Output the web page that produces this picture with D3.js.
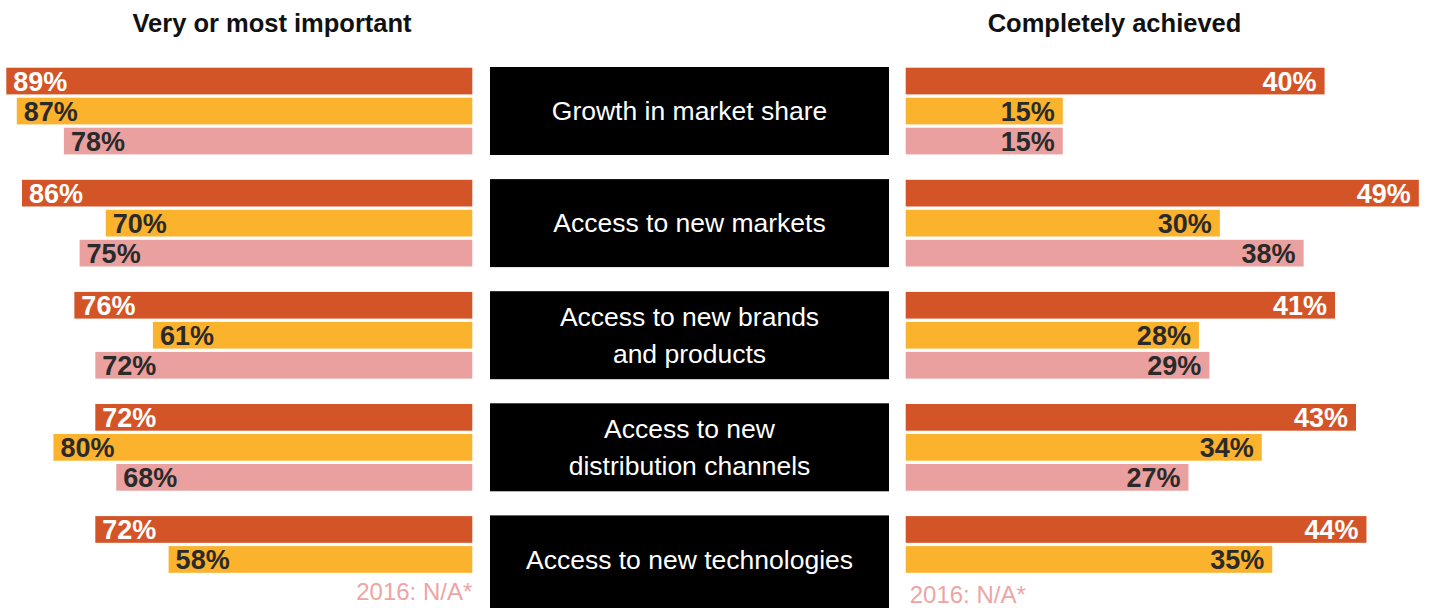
<!DOCTYPE html>
<html>
<head>
<meta charset="utf-8">
<script src="https://cdn.jsdelivr.net/npm/d3@7"></script>
<style>
  html, body { margin: 0; padding: 0; background: #fff; }
  svg { display: block; font-family: "Liberation Sans", Arial, Helvetica, sans-serif; }
</style>
</head>
<body>
<svg id="chart" width="1433" height="608"></svg>
<script>
// Objectives of the deal, by survey year
const categories = [
  ["Growth in market share"],
  ["Access to new markets"],
  ["Access to new brands", "and products"],
  ["Access to new", "distribution channels"],
  ["Access to new technologies"]
];
const series = ["2018", "2017", "2016"];

// "Very or most important" share, per series (null = not asked)
const important2018 = [89, 86, 76, 72, 72];
const important2017 = [87, 70, 61, 80, 58];
const important2016 = [78, 75, 72, 68, null];

// "Completely achieved" share, per series
const achieved2018 = [40, 49, 41, 43, 44];
const achieved2017 = [15, 30, 28, 34, 35];
const achieved2016 = [15, 38, 29, 27, null];

const panelTitles = ["Very or most important", "Completely achieved"];
const missingNote = "2016: N/A*";

const colors = { "2018": "#d35427", "2017": "#fbb22d", "2016": "#e9a09f" };
const labelColors = { "2018": "#ffffff", "2017": "#2a2a2a", "2016": "#2a2a2a" };

const importantBySeries = { "2018": important2018, "2017": important2017, "2016": important2016 };
const achievedBySeries = { "2018": achieved2018, "2017": achieved2017, "2016": achieved2016 };

const svg = d3.select("#chart");

// Layout
const leftEdge = 472.3;       // bars on the left grow leftwards from here
const rightEdge = 905.7;      // bars on the right grow rightwards from here
const boxX0 = 490, boxX1 = 889;
const groupTop = 67.7, groupStep = 112.1;

const keys = categories.map((c, i) => i);
const yGroup = d3.scaleBand().domain(keys)
  .range([groupTop, groupTop + groupStep * keys.length]).paddingInner(0).paddingOuter(0);
const ySeries = d3.scaleBand().domain(series).range([0, 86.7]).paddingInner(0.11).paddingOuter(0);

const xLeft = d3.scaleLinear().domain([0, 100]).range([leftEdge, leftEdge - 523.6]);
const xRight = d3.scaleLinear().domain([0, 50]).range([rightEdge, rightEdge + 523.6]);

// Panel titles
svg.append("text")
  .attr("x", 272).attr("y", 32)
  .attr("text-anchor", "middle")
  .attr("font-size", 25.5).attr("font-weight", "bold").attr("fill", "#111")
  .text(panelTitles[0]);
svg.append("text")
  .attr("x", 1114.5).attr("y", 32)
  .attr("text-anchor", "middle")
  .attr("font-size", 25.5).attr("font-weight", "bold").attr("fill", "#111")
  .text(panelTitles[1]);

// Flatten the rows
const rows = [];
keys.forEach(i => {
  series.forEach(s => {
    rows.push({ group: i, series: s, important: importantBySeries[s][i], achieved: achievedBySeries[s][i] });
  });
});

const bh = ySeries.bandwidth();
const labelSize = 27;

// Left panel: importance
const left = svg.append("g");
const leftRows = rows.filter(d => d.important != null);
left.selectAll("rect").data(leftRows).join("rect")
  .attr("x", d => xLeft(d.important))
  .attr("y", d => yGroup(d.group) + ySeries(d.series))
  .attr("width", d => xLeft(0) - xLeft(d.important))
  .attr("height", bh)
  .attr("fill", d => colors[d.series]);
left.selectAll("text").data(leftRows).join("text")
  .attr("x", d => xLeft(d.important) + 7)
  .attr("y", d => yGroup(d.group) + ySeries(d.series) + bh / 2 + 9.5)
  .attr("font-size", labelSize).attr("font-weight", "bold")
  .attr("fill", d => labelColors[d.series])
  .text(d => d.important + "%");

// Right panel: achievement
const right = svg.append("g");
const rightRows = rows.filter(d => d.achieved != null);
right.selectAll("rect").data(rightRows).join("rect")
  .attr("x", xRight(0))
  .attr("y", d => yGroup(d.group) + ySeries(d.series))
  .attr("width", d => xRight(d.achieved) - xRight(0))
  .attr("height", bh)
  .attr("fill", d => colors[d.series]);
right.selectAll("text").data(rightRows).join("text")
  .attr("x", d => xRight(d.achieved) - 8)
  .attr("y", d => yGroup(d.group) + ySeries(d.series) + bh / 2 + 9.5)
  .attr("text-anchor", "end")
  .attr("font-size", labelSize).attr("font-weight", "bold")
  .attr("fill", d => labelColors[d.series])
  .text(d => d.achieved + "%");

// Centre category boxes
const boxes = svg.append("g").selectAll("g").data(keys).join("g");
boxes.append("rect")
  .attr("x", boxX0).attr("width", boxX1 - boxX0)
  .attr("y", i => yGroup(i) - 0.7)
  .attr("height", i => i === keys.length - 1 ? 608 - yGroup(i) + 1 : 88)
  .attr("fill", "#000");
boxes.each(function(i) {
  const lines = categories[i];
  const cy = yGroup(i) - 0.7 + 44;
  const lh = 36.5;
  const t = d3.select(this).append("text")
    .attr("text-anchor", "middle")
    .attr("font-size", 26.5).attr("fill", "#fff");
  lines.forEach((line, k) => {
    t.append("tspan")
      .attr("x", (boxX0 + boxX1) / 2)
      .attr("y", cy + 9.3 + (k - (lines.length - 1) / 2) * lh)
      .text(line);
  });
});

// Notes where the 2016 series is missing
const lastGroup = keys[keys.length - 1];
const missingY = yGroup(lastGroup) + ySeries("2016") + bh;
svg.append("text")
  .attr("x", leftEdge).attr("y", missingY - 2.5)
  .attr("text-anchor", "end")
  .attr("font-size", 24).attr("fill", "#eda5a4")
  .text(missingNote);
svg.append("text")
  .attr("x", rightEdge + 4).attr("y", missingY + 0.5)
  .attr("font-size", 24).attr("fill", "#eda5a4")
  .text(missingNote);
</script>
</body>
</html>
